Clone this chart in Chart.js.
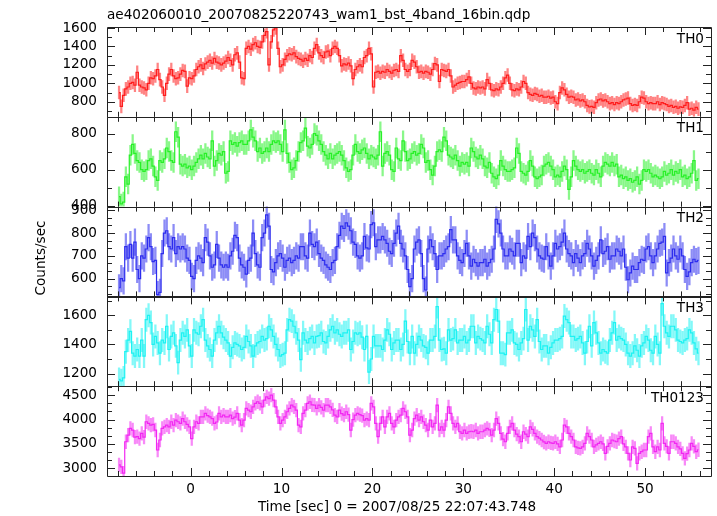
<!DOCTYPE html>
<html>
<head>
<meta charset="utf-8">
<script src="https://cdn.jsdelivr.net/npm/chart.js@4.4.1/dist/chart.umd.min.js"></script>
<style>
  html, body { margin: 0; padding: 0; background: #fff; }
  #wrap { width: 717px; height: 516px; position: relative; }
</style>
</head>
<body>
<div id="wrap"><canvas id="lc"></canvas></div>
<script>
// light curve, 0.25 s bins starting at t = -7.875 s
const binStart = -7.875;
const binWidth = 0.25;

const panelNames = ["TH0", "TH1", "TH2", "TH3", "TH0123"];

const th0 = [
  900, 750, 870, 940, 960, 1000, 1010, 980,
  1120, 980, 960, 950, 930, 1000, 1060, 1050,
  1080, 1150, 1040, 960, 870, 1000, 1100, 1150,
  1080, 1050, 1060, 1100, 1140, 1130, 970, 1060,
  1050, 1080, 1150, 1180, 1200, 1160, 1210, 1230,
  1250, 1220, 1270, 1230, 1220, 1200, 1220, 1240,
  1280, 1250, 1200, 1310, 1330, 1230, 1060, 1050,
  1380, 1400, 1370, 1420, 1440, 1400, 1390, 1450,
  1520, 1560, 1200, 1450, 1580, 1600, 1380, 1180,
  1200, 1260, 1300, 1320, 1310, 1330, 1290, 1270,
  1260, 1240, 1270, 1250, 1300, 1280, 1380, 1420,
  1330, 1300, 1280, 1340, 1350, 1300, 1380, 1400,
  1380, 1300, 1190, 1210, 1200, 1220, 1190, 1050,
  1150, 1180, 1200, 1180, 1280, 1300, 1380, 1320,
  960, 1120, 1130, 1110, 1130, 1120, 1150, 1130,
  1110, 1140, 1150, 1130, 1300, 1250, 1150, 1130,
  1150, 1250, 1230, 1180, 1120, 1130, 1110, 1130,
  1120, 1100, 1150, 1215, 1200, 1020, 1150, 1140,
  1130, 1150, 1080, 960, 980, 1000, 1010, 1020,
  1020, 1040, 1070, 1000, 950, 940, 960, 950,
  960, 940, 1040, 1000, 930, 920, 940, 930,
  960, 1000, 1060, 1090, 1000, 930, 920, 940,
  930, 960, 1020, 1000, 900, 880, 870, 890,
  880, 860, 870, 850, 850, 860, 840, 850,
  800, 780, 900, 950, 930, 880, 850, 860,
  850, 820, 830, 810, 820, 800, 760, 745,
  750, 740, 790, 820, 830, 810, 820, 800,
  780, 790, 770, 790, 780, 800, 820, 830,
  840, 780, 760, 770, 760, 800, 850, 840,
  800, 780, 790, 780, 780, 800, 770, 790,
  780, 770, 750, 760, 740, 750, 730, 745,
  740, 760, 790, 720, 730, 710, 740, 720
];

const th1 = [
  450, 410, 420, 560, 520, 680, 740, 690,
  650, 640, 600, 590, 600, 650, 660, 620,
  560, 540, 650, 640, 660, 720, 700, 650,
  640, 810, 780, 630, 620, 630, 610, 620,
  600, 620, 640, 660, 680, 660, 690, 670,
  660, 760, 620, 650, 690, 680, 700, 580,
  590, 760, 740, 750, 730, 750, 760, 740,
  740, 760, 820, 780, 760, 700, 720, 690,
  700, 720, 700, 740, 760, 750, 760, 740,
  700, 820, 690, 640, 600, 610, 650, 700,
  750, 760, 830, 730, 720, 740, 800, 790,
  760, 740, 700, 680, 660, 690, 660, 680,
  690, 700, 680, 650, 610, 590, 600, 680,
  740, 700, 690, 710, 720, 690, 660, 680,
  670, 660, 680, 810, 620, 690, 700, 680,
  600, 590, 720, 660, 650, 760, 700, 650,
  660, 690, 700, 680, 690, 740, 720, 640,
  650, 600, 570, 620, 700, 710, 700, 780,
  760, 680, 670, 660, 680, 650, 620, 640,
  630, 640, 620, 720, 700, 670, 660, 680,
  660, 620, 610, 640, 580, 560, 550, 570,
  650, 620, 600, 590, 590, 600, 610, 720,
  690, 590, 580, 570, 590, 650, 620, 560,
  550, 560, 570, 620, 630, 640, 620, 600,
  560, 570, 560, 590, 620, 600, 490, 560,
  650, 620, 600, 590, 600, 580, 590, 600,
  580, 570, 600, 580, 560, 620, 640, 630,
  620, 640, 620, 630, 560, 570, 550, 560,
  540, 550, 530, 540, 560, 520, 540, 600,
  590, 600, 580, 560, 570, 560, 550, 560,
  590, 570, 580, 600, 570, 590, 580, 600,
  560, 570, 550, 560, 580, 650, 540, 550
];

const th2 = [
  560, 600, 590, 740, 690, 750, 690, 760,
  640, 600, 700, 690, 730, 780, 740, 675,
  680, 530, 540, 710, 800, 810, 740, 730,
  780, 710, 740, 730, 740, 730, 690, 680,
  610, 600, 680, 700, 690, 670, 780, 760,
  700, 650, 660, 750, 690, 660, 650, 660,
  650, 700, 720, 790, 780, 690, 660, 650,
  620, 680, 690, 800, 710, 660, 650, 780,
  800, 880, 830, 640, 630, 670, 700, 710,
  690, 650, 680, 690, 670, 680, 700, 690,
  740, 740, 700, 690, 800, 750, 740, 760,
  710, 690, 680, 660, 650, 640, 670, 680,
  740, 790, 830, 820, 845, 830, 810, 760,
  750, 700, 690, 700, 785, 735, 730, 837,
  845, 740, 770, 770, 785, 770, 755, 720,
  710, 755, 800, 830, 755, 730, 700, 640,
  565, 600, 730, 760, 770, 710, 600, 550,
  730, 770, 740, 710, 640, 700, 700, 710,
  730, 740, 815, 770, 770, 700, 680, 670,
  710, 755, 700, 655, 685, 670, 655, 670,
  670, 685, 655, 670, 685, 730, 860, 840,
  800, 730, 700, 700, 730, 720, 700, 755,
  755, 670, 700, 690, 785, 740, 800, 780,
  730, 700, 690, 685, 740, 700, 655, 700,
  755, 730, 740, 760, 800, 730, 710, 700,
  670, 710, 690, 670, 700, 710, 755, 730,
  700, 655, 680, 700, 770, 710, 720, 740,
  685, 700, 700, 730, 720, 700, 730, 650,
  595, 625, 655, 640, 640, 670, 685, 680,
  730, 740, 700, 670, 700, 730, 755, 760,
  785, 625, 670, 690, 730, 700, 685, 730,
  700, 640, 610, 630, 670, 685, 675, 680
];

const th3 = [
  1160, 1150, 1170, 1350, 1430, 1490, 1340, 1320,
  1365, 1320, 1430, 1320, 1570, 1600, 1550, 1400,
  1455, 1410, 1340, 1430, 1410, 1525, 1365, 1455,
  1480, 1390, 1275, 1430, 1480, 1455, 1500, 1390,
  1320, 1500, 1480, 1470, 1525, 1570, 1430, 1390,
  1365, 1320, 1430, 1480, 1525, 1480, 1450, 1430,
  1410, 1320, 1380, 1410, 1400, 1390, 1365, 1380,
  1455, 1420, 1390, 1320, 1390, 1410, 1420, 1455,
  1430, 1440, 1525, 1500, 1455, 1400, 1365, 1320,
  1330, 1340, 1500, 1570, 1560, 1525, 1480, 1430,
  1295, 1480, 1430, 1410, 1440, 1455, 1410, 1455,
  1460, 1480, 1420, 1410, 1455, 1500, 1525, 1480,
  1500, 1470, 1455, 1480, 1480, 1500, 1365, 1420,
  1480, 1470, 1480, 1450, 1365, 1455, 1210, 1300,
  1455, 1390, 1390, 1390, 1365, 1430, 1500, 1470,
  1365, 1410, 1430, 1430, 1365, 1400, 1560, 1420,
  1340, 1455, 1340, 1400, 1455, 1430, 1390, 1380,
  1340, 1430, 1430, 1455, 1660, 1430, 1365, 1370,
  1340, 1500, 1430, 1440, 1500, 1410, 1430, 1430,
  1455, 1410, 1430, 1525, 1525, 1410, 1455, 1440,
  1430, 1410, 1525, 1470, 1410, 1570, 1640, 1560,
  1340, 1340, 1330, 1480, 1480, 1500, 1410, 1400,
  1365, 1410, 1440, 1640, 1430, 1525, 1500, 1455,
  1570, 1420, 1365, 1390, 1390, 1340, 1380, 1410,
  1430, 1430, 1440, 1455, 1595, 1570, 1550, 1455,
  1455, 1430, 1440, 1455, 1410, 1340, 1420, 1525,
  1390, 1550, 1480, 1410, 1340, 1365, 1350, 1340,
  1430, 1480, 1550, 1430, 1455, 1440, 1430, 1400,
  1340, 1320, 1340, 1390, 1360, 1320, 1390, 1410,
  1455, 1430, 1360, 1340, 1455, 1400, 1340, 1680,
  1525, 1480, 1455, 1525, 1525, 1500, 1430, 1420,
  1410, 1430, 1440, 1500, 1480, 1410, 1370, 1340
];

const th0123 = [
  3070, 3030, 2900, 3545, 3680, 3820, 3785, 3640,
  3650, 3610, 3715, 3640, 3955, 3920, 3885, 3900,
  3785, 3375, 3580, 3820, 3850, 3885, 3850, 3955,
  3885, 3990, 3955, 3920, 4020, 3955, 3900, 3850,
  3610, 3850, 3955, 3920, 4055, 4055, 4125, 4080,
  4055, 4020, 3920, 3950, 4125, 4055, 4090, 4055,
  4055, 4090, 4020, 4050, 4125, 3990, 3885, 3990,
  4230, 4195, 4160, 4260, 4330, 4365, 4330, 4260,
  4400, 4465, 4430, 4500, 4400, 4260, 4055, 3920,
  3990, 4055, 4160, 4230, 4295, 4260, 4195, 3885,
  3850, 4125, 4195, 4330, 4365, 4300, 4295, 4230,
  4295, 4250, 4195, 4295, 4295, 4260, 4200, 4090,
  4055, 4195, 4120, 4090, 4160, 4100, 3785, 4000,
  4090, 4125, 4100, 4080, 3990, 4020, 3990, 4330,
  4260, 3920, 3650, 3920, 4055, 3850, 4055, 4125,
  3920, 3850, 3990, 4055, 4090, 4230, 4160, 4055,
  3680, 3785, 4020, 4090, 3990, 4055, 3955, 3885,
  3785, 3990, 3850, 3920, 4295, 3785, 3850, 3785,
  3990, 4260, 4125, 3920, 3850, 3920, 3750, 3715,
  3785, 3715, 3750, 3760, 3750, 3785, 3715, 3750,
  3750, 3785, 3820, 3790, 3680, 3785, 4020, 3920,
  3715, 3600, 3545, 3715, 3850, 3920, 3785, 3700,
  3650, 3545, 3750, 3700, 3650, 3850, 3800, 3715,
  3650, 3620, 3580, 3540, 3510, 3545, 3520, 3510,
  3545, 3500, 3440, 3580, 3885, 3850, 3715, 3650,
  3580, 3440, 3420, 3410, 3440, 3510, 3715, 3650,
  3580, 3440, 3480, 3510, 3545, 3500, 3305, 3450,
  3510, 3580, 3560, 3545, 3610, 3650, 3500, 3440,
  3305, 3170, 3440, 3410, 3100, 3305, 3340, 3375,
  3375, 3650, 3715, 3440, 3340, 3440, 3375, 3920,
  3510, 3450, 3305, 3545, 3545, 3510, 3440, 3400,
  3305, 3205, 3300, 3375, 3510, 3450, 3340, 3380
];

const series = [th0, th1, th2, th3, th0123];

// half length of the error bars
const errHalf = [70, 55, 58, 80, 140];

// axis ranges and labelled ticks
const yMin = [637, 395, 522, 1113, 2842];
const yMax = [1611, 893, 916, 1730, 4684];
const yTicks = [
  [800, 1000, 1200, 1400, 1600],
  [400, 600, 800],
  [600, 700, 800, 900],
  [1200, 1400, 1600],
  [3000, 3500, 4000, 4500]
];
const yMinor = [100, 100, 100 / 3, 100, 500 / 3];
const xTicks = [0, 10, 20, 30, 40, 50];
const xMin = -9.2, xMax = 57.25;

const lineCol = ["rgb(255,30,30)", "rgb(40,240,40)", "rgb(45,45,238)", "rgb(30,242,242)", "rgb(242,40,242)"];
const barCol = ["rgba(255,30,30,0.55)", "rgba(40,240,40,0.55)", "rgba(45,45,238,0.55)", "rgba(30,242,242,0.55)", "rgba(242,40,242,0.55)"];

const FONT = "DejaVu Sans";
const FSIZE = 13.6;

function timeAt(i) {
  return binStart + binWidth * i;
}

const datasets = [];
series.forEach((vals, k) => {
  datasets.push({
    type: "bar",
    yAxisID: "y" + k,
    data: vals.map((v, i) => ({ x: timeAt(i), y: [v - errHalf[k], v + errHalf[k]] })),
    backgroundColor: barCol[k],
    borderWidth: 0,
    barThickness: 1.6,
    grouped: false,
    clip: 0
  });
  datasets.push({
    type: "line",
    yAxisID: "y" + k,
    data: vals.map((v, i) => ({ x: timeAt(i), y: v })),
    stepped: "middle",
    borderColor: lineCol[k],
    borderWidth: 1.2,
    pointRadius: 0,
    fill: false,
    clip: 0
  });
});

const scales = {
  x: {
    type: "linear",
    min: xMin,
    max: xMax,
    offset: false,
    grid: { display: false, drawTicks: false },
    border: { display: false },
    ticks: { color: "#000", font: { family: FONT, size: FSIZE }, padding: 5, autoSkip: false, maxRotation: 0,
             callback: v => String(v) },
    afterBuildTicks: s => { s.ticks = xTicks.map(v => ({ value: v })); },
    afterFit: s => { s.height = 40; }
  }
};
// panels listed bottom first: the layout places the last left axis on top
for (let k = series.length - 1; k >= 0; k--) {
  scales["y" + k] = {
    type: "linear",
    position: "left",
    stack: "wam",
    stackWeight: 1,
    min: yMin[k],
    max: yMax[k],
    grid: { display: false, drawTicks: false },
    border: { display: false },
    ticks: { color: "#000", font: { family: FONT, size: FSIZE }, padding: 10, autoSkip: false,
             callback: v => String(v) },
    afterBuildTicks: s => { s.ticks = yTicks[k].map(v => ({ value: v })); },
    afterFit: s => { s.width = 107; }
  };
}

function px(v) { return Math.round(v) + 0.5; }

const framePlugin = {
  id: "frames",
  afterDatasetsDraw(chart) {
    const ctx = chart.ctx;
    const xs = chart.scales.x;
    const L = chart.chartArea.left, R = chart.chartArea.right;
    ctx.save();
    ctx.strokeStyle = "#222";
    ctx.lineWidth = 1;
    series.forEach((vals, k) => {
      const ys = chart.scales["y" + k];
      const T = ys.top, B = ys.bottom;
      ctx.beginPath();
      ctx.rect(px(L), px(T), Math.round(R - L), Math.round(B - T));
      // y ticks on both sides
      const first = Math.ceil(yMin[k] / yMinor[k] - 1e-6);
      for (let n = first; n * yMinor[k] <= yMax[k]; n++) {
        const v = n * yMinor[k];
        const major = yTicks[k].some(t => Math.abs(t - v) < 1e-3);
        const len = major ? 8 : 5;
        const y = px(ys.getPixelForValue(v));
        ctx.moveTo(L, y); ctx.lineTo(L + len, y);
        ctx.moveTo(R, y); ctx.lineTo(R - len, y);
      }
      // time ticks on top and bottom edges
      for (let t = -8; t <= 56; t += 2) {
        const len = t % 10 === 0 ? 8 : 5;
        const x = px(xs.getPixelForValue(t));
        ctx.moveTo(x, T); ctx.lineTo(x, T + len);
        ctx.moveTo(x, B); ctx.lineTo(x, B - len);
      }
      ctx.stroke();
    });
    ctx.restore();
  },
  afterDraw(chart) {
    const ctx = chart.ctx;
    ctx.save();
    ctx.fillStyle = "#000";
    ctx.font = FSIZE + "px '" + FONT + "'";
    ctx.textBaseline = "middle";
    ctx.textAlign = "left";
    ctx.fillText("ae402060010_20070825220743_wam1_bst_4band_16bin.qdp", chart.chartArea.left, 15);
    ctx.textAlign = "right";
    series.forEach((vals, k) => {
      ctx.fillText(panelNames[k], 704, chart.scales["y" + k].top + 12);
    });
    ctx.textAlign = "center";
    ctx.fillText("Time [sec] 0 = 2007/08/25 22:07:43.748", 397, 507);
    ctx.translate(41, 258);
    ctx.rotate(-Math.PI / 2);
    ctx.fillText("Counts/sec", 0, 0);
    ctx.restore();
  }
};

new Chart(document.getElementById("lc"), {
  type: "bar",
  data: { datasets },
  options: {
    responsive: true,
    maintainAspectRatio: false,
    animation: false,
    devicePixelRatio: 1,
    layout: { padding: { left: 0, right: 6, top: 27, bottom: 0 } },
    plugins: { legend: { display: false }, tooltip: { enabled: false }, title: { display: false } },
    scales
  },
  plugins: [framePlugin]
});
</script>
</body>
</html>
